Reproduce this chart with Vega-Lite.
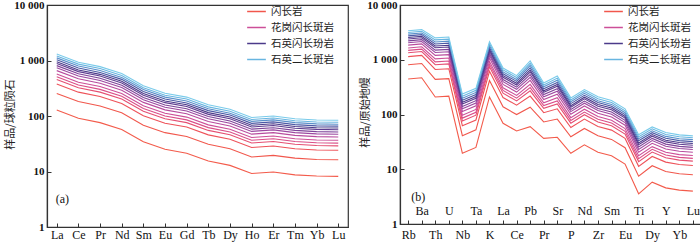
{
"$schema":"https://vega.github.io/schema/vega-lite/v6.json",
"padding":{"left":3,"top":-2,"right":0,"bottom":0},
"config":{"view":{"stroke":"#333","strokeWidth":1.2},"axis":{"grid":false,"domainColor":"#333","tickColor":"#333","labelColor":"#111","titleColor":"#222","domainWidth":1.2}},
"spacing":9,
"resolve":{"scale":{"color":"independent","x":"independent","y":"independent"},"legend":{"color":"independent"}},
"datasets":{
"la":[{"t":"(a)"}],
"lb":[{"t":"(b)"}],
"a":[
{"s":"a01","e":"La","v":128},{"s":"a01","e":"Ce","v":91.2},{"s":"a01","e":"Pr","v":75.9},{"s":"a01","e":"Nd","v":56.9},{"s":"a01","e":"Sm","v":34.3},{"s":"a01","e":"Eu","v":25.1},{"s":"a01","e":"Gd","v":21.4},{"s":"a01","e":"Tb","v":15.5},{"s":"a01","e":"Dy","v":12.9},{"s":"a01","e":"Ho","v":9.18},{"s":"a01","e":"Er","v":9.77},{"s":"a01","e":"Tm","v":8.71},{"s":"a01","e":"Yb","v":8.28},{"s":"a01","e":"Lu","v":8.17},
{"s":"a02","e":"La","v":255},{"s":"a02","e":"Ce","v":182},{"s":"a02","e":"Pr","v":151},{"s":"a02","e":"Nd","v":114},{"s":"a02","e":"Sm","v":68.4},{"s":"a02","e":"Eu","v":50.1},{"s":"a02","e":"Gd","v":42.7},{"s":"a02","e":"Tb","v":30.9},{"s":"a02","e":"Dy","v":25.7},{"s":"a02","e":"Ho","v":18.3},{"s":"a02","e":"Er","v":19.5},{"s":"a02","e":"Tm","v":17.4},{"s":"a02","e":"Yb","v":16.5},{"s":"a02","e":"Lu","v":16.3},
{"s":"a03","e":"La","v":378},{"s":"a03","e":"Ce","v":269},{"s":"a03","e":"Pr","v":224},{"s":"a03","e":"Nd","v":168},{"s":"a03","e":"Sm","v":101},{"s":"a03","e":"Eu","v":74.1},{"s":"a03","e":"Gd","v":63.2},{"s":"a03","e":"Tb","v":45.7},{"s":"a03","e":"Dy","v":38.1},{"s":"a03","e":"Ho","v":27.1},{"s":"a03","e":"Er","v":28.8},{"s":"a03","e":"Tm","v":25.7},{"s":"a03","e":"Yb","v":24.4},{"s":"a03","e":"Lu","v":24.1},
{"s":"a04","e":"La","v":454},{"s":"a04","e":"Ce","v":324},{"s":"a04","e":"Pr","v":269},{"s":"a04","e":"Nd","v":202},{"s":"a04","e":"Sm","v":122},{"s":"a04","e":"Eu","v":89.1},{"s":"a04","e":"Gd","v":75.9},{"s":"a04","e":"Tb","v":55.0},{"s":"a04","e":"Dy","v":45.8},{"s":"a04","e":"Ho","v":32.6},{"s":"a04","e":"Er","v":34.7},{"s":"a04","e":"Tm","v":30.9},{"s":"a04","e":"Yb","v":29.4},{"s":"a04","e":"Lu","v":29.0},
{"s":"a05","e":"La","v":510},{"s":"a05","e":"Ce","v":363},{"s":"a05","e":"Pr","v":302},{"s":"a05","e":"Nd","v":227},{"s":"a05","e":"Sm","v":137},{"s":"a05","e":"Eu","v":99.9},{"s":"a05","e":"Gd","v":85.2},{"s":"a05","e":"Tb","v":61.7},{"s":"a05","e":"Dy","v":51.4},{"s":"a05","e":"Ho","v":36.5},{"s":"a05","e":"Er","v":38.9},{"s":"a05","e":"Tm","v":34.7},{"s":"a05","e":"Yb","v":33.0},{"s":"a05","e":"Lu","v":32.5},
{"s":"a06","e":"La","v":572},{"s":"a06","e":"Ce","v":407},{"s":"a06","e":"Pr","v":339},{"s":"a06","e":"Nd","v":254},{"s":"a06","e":"Sm","v":153},{"s":"a06","e":"Eu","v":112},{"s":"a06","e":"Gd","v":95.6},{"s":"a06","e":"Tb","v":69.2},{"s":"a06","e":"Dy","v":57.6},{"s":"a06","e":"Ho","v":41.0},{"s":"a06","e":"Er","v":43.6},{"s":"a06","e":"Tm","v":38.9},{"s":"a06","e":"Yb","v":37.0},{"s":"a06","e":"Lu","v":36.5},
{"s":"a07","e":"La","v":657},{"s":"a07","e":"Ce","v":468},{"s":"a07","e":"Pr","v":389},{"s":"a07","e":"Nd","v":292},{"s":"a07","e":"Sm","v":176},{"s":"a07","e":"Eu","v":129},{"s":"a07","e":"Gd","v":110},{"s":"a07","e":"Tb","v":79.5},{"s":"a07","e":"Dy","v":66.2},{"s":"a07","e":"Ho","v":47.1},{"s":"a07","e":"Er","v":50.1},{"s":"a07","e":"Tm","v":44.7},{"s":"a07","e":"Yb","v":42.5},{"s":"a07","e":"Lu","v":41.9},
{"s":"a08","e":"La","v":737},{"s":"a08","e":"Ce","v":525},{"s":"a08","e":"Pr","v":437},{"s":"a08","e":"Nd","v":327},{"s":"a08","e":"Sm","v":197},{"s":"a08","e":"Eu","v":144},{"s":"a08","e":"Gd","v":123},{"s":"a08","e":"Tb","v":89.2},{"s":"a08","e":"Dy","v":74.2},{"s":"a08","e":"Ho","v":52.8},{"s":"a08","e":"Er","v":56.2},{"s":"a08","e":"Tm","v":50.1},{"s":"a08","e":"Yb","v":47.6},{"s":"a08","e":"Lu","v":47.0},
{"s":"a09","e":"La","v":808},{"s":"a09","e":"Ce","v":576},{"s":"a09","e":"Pr","v":479},{"s":"a09","e":"Nd","v":359},{"s":"a09","e":"Sm","v":216},{"s":"a09","e":"Eu","v":158},{"s":"a09","e":"Gd","v":135},{"s":"a09","e":"Tb","v":97.8},{"s":"a09","e":"Dy","v":81.4},{"s":"a09","e":"Ho","v":57.9},{"s":"a09","e":"Er","v":61.6},{"s":"a09","e":"Tm","v":55.0},{"s":"a09","e":"Yb","v":52.2},{"s":"a09","e":"Lu","v":51.6},
{"s":"a10","e":"La","v":886},{"s":"a10","e":"Ce","v":631},{"s":"a10","e":"Pr","v":525},{"s":"a10","e":"Nd","v":394},{"s":"a10","e":"Sm","v":237},{"s":"a10","e":"Eu","v":174},{"s":"a10","e":"Gd","v":148},{"s":"a10","e":"Tb","v":107},{"s":"a10","e":"Dy","v":89.2},{"s":"a10","e":"Ho","v":63.5},{"s":"a10","e":"Er","v":67.6},{"s":"a10","e":"Tm","v":60.3},{"s":"a10","e":"Yb","v":57.3},{"s":"a10","e":"Lu","v":56.5},
{"s":"a11","e":"La","v":949},{"s":"a11","e":"Ce","v":676},{"s":"a11","e":"Pr","v":563},{"s":"a11","e":"Nd","v":422},{"s":"a11","e":"Sm","v":254},{"s":"a11","e":"Eu","v":186},{"s":"a11","e":"Gd","v":159},{"s":"a11","e":"Tb","v":115},{"s":"a11","e":"Dy","v":95.6},{"s":"a11","e":"Ho","v":68.1},{"s":"a11","e":"Er","v":72.4},{"s":"a11","e":"Tm","v":64.6},{"s":"a11","e":"Yb","v":61.4},{"s":"a11","e":"Lu","v":60.6},
{"s":"a12","e":"La","v":1030},{"s":"a12","e":"Ce","v":733},{"s":"a12","e":"Pr","v":610},{"s":"a12","e":"Nd","v":457},{"s":"a12","e":"Sm","v":276},{"s":"a12","e":"Eu","v":202},{"s":"a12","e":"Gd","v":172},{"s":"a12","e":"Tb","v":125},{"s":"a12","e":"Dy","v":104},{"s":"a12","e":"Ho","v":73.8},{"s":"a12","e":"Er","v":78.5},{"s":"a12","e":"Tm","v":70.0},{"s":"a12","e":"Yb","v":66.5},{"s":"a12","e":"Lu","v":65.6},
{"s":"a13","e":"La","v":1115},{"s":"a13","e":"Ce","v":794},{"s":"a13","e":"Pr","v":661},{"s":"a13","e":"Nd","v":496},{"s":"a13","e":"Sm","v":299},{"s":"a13","e":"Eu","v":219},{"s":"a13","e":"Gd","v":186},{"s":"a13","e":"Tb","v":135},{"s":"a13","e":"Dy","v":112},{"s":"a13","e":"Ho","v":80.0},{"s":"a13","e":"Er","v":85.1},{"s":"a13","e":"Tm","v":75.9},{"s":"a13","e":"Yb","v":72.1},{"s":"a13","e":"Lu","v":71.2},
{"s":"a14","e":"La","v":1208},{"s":"a14","e":"Ce","v":861},{"s":"a14","e":"Pr","v":717},{"s":"a14","e":"Nd","v":537},{"s":"a14","e":"Sm","v":324},{"s":"a14","e":"Eu","v":237},{"s":"a14","e":"Gd","v":202},{"s":"a14","e":"Tb","v":146},{"s":"a14","e":"Dy","v":122},{"s":"a14","e":"Ho","v":86.7},{"s":"a14","e":"Er","v":92.2},{"s":"a14","e":"Tm","v":82.2},{"s":"a14","e":"Yb","v":78.2},{"s":"a14","e":"Lu","v":77.1},
{"s":"a15","e":"La","v":1309},{"s":"a15","e":"Ce","v":933},{"s":"a15","e":"Pr","v":776},{"s":"a15","e":"Nd","v":582},{"s":"a15","e":"Sm","v":351},{"s":"a15","e":"Eu","v":257},{"s":"a15","e":"Gd","v":219},{"s":"a15","e":"Tb","v":159},{"s":"a15","e":"Dy","v":132},{"s":"a15","e":"Ho","v":93.9},{"s":"a15","e":"Er","v":99.9},{"s":"a15","e":"Tm","v":89.1},{"s":"a15","e":"Yb","v":84.7},{"s":"a15","e":"Lu","v":83.6}
],
"b":[
{"s":"b01","e":"Rb","v":445},{"s":"b01","e":"Ba","v":468},{"s":"b01","e":"Th","v":209},{"s":"b01","e":"U","v":216},{"s":"b01","e":"Nb","v":19.6},{"s":"b01","e":"Ta","v":25},{"s":"b01","e":"K","v":209},{"s":"b01","e":"La","v":69},{"s":"b01","e":"Ce","v":50},{"s":"b01","e":"Pb","v":60},{"s":"b01","e":"Pr","v":36.7},{"s":"b01","e":"Sr","v":38.3},{"s":"b01","e":"P","v":19.6},{"s":"b01","e":"Nd","v":27.9},{"s":"b01","e":"Zr","v":20.5},{"s":"b01","e":"Sm","v":17.6},{"s":"b01","e":"Eu","v":12.4},{"s":"b01","e":"Ti","v":3.56},{"s":"b01","e":"Dy","v":5.8},{"s":"b01","e":"Y","v":4.57},{"s":"b01","e":"Yb","v":4.15},{"s":"b01","e":"Lu","v":3.98},
{"s":"b02","e":"Rb","v":812},{"s":"b02","e":"Ba","v":854},{"s":"b02","e":"Th","v":438},{"s":"b02","e":"U","v":452},{"s":"b02","e":"Nb","v":41.0},{"s":"b02","e":"Ta","v":52.4},{"s":"b02","e":"K","v":417},{"s":"b02","e":"La","v":138},{"s":"b02","e":"Ce","v":99.8},{"s":"b02","e":"Pb","v":136},{"s":"b02","e":"Pr","v":73.2},{"s":"b02","e":"Sr","v":82.5},{"s":"b02","e":"P","v":39.1},{"s":"b02","e":"Nd","v":55.7},{"s":"b02","e":"Zr","v":40.9},{"s":"b02","e":"Sm","v":35.1},{"s":"b02","e":"Eu","v":24.7},{"s":"b02","e":"Ti","v":7.45},{"s":"b02","e":"Dy","v":11.6},{"s":"b02","e":"Y","v":9.12},{"s":"b02","e":"Yb","v":8.28},{"s":"b02","e":"Lu","v":7.94},
{"s":"b03","e":"Rb","v":1141},{"s":"b03","e":"Ba","v":1200},{"s":"b03","e":"Th","v":664},{"s":"b03","e":"U","v":686},{"s":"b03","e":"Nb","v":62.3},{"s":"b03","e":"Ta","v":79.4},{"s":"b03","e":"K","v":617},{"s":"b03","e":"La","v":204},{"s":"b03","e":"Ce","v":148},{"s":"b03","e":"Pb","v":217},{"s":"b03","e":"Pr","v":108},{"s":"b03","e":"Sr","v":127},{"s":"b03","e":"P","v":57.8},{"s":"b03","e":"Nd","v":82.3},{"s":"b03","e":"Zr","v":60.5},{"s":"b03","e":"Sm","v":51.9},{"s":"b03","e":"Eu","v":36.6},{"s":"b03","e":"Ti","v":11.3},{"s":"b03","e":"Dy","v":17.1},{"s":"b03","e":"Y","v":13.5},{"s":"b03","e":"Yb","v":12.2},{"s":"b03","e":"Lu","v":11.7},
{"s":"b04","e":"Rb","v":1344},{"s":"b04","e":"Ba","v":1413},{"s":"b04","e":"Th","v":811},{"s":"b04","e":"U","v":839},{"s":"b04","e":"Nb","v":76.1},{"s":"b04","e":"Ta","v":97.1},{"s":"b04","e":"K","v":742},{"s":"b04","e":"La","v":245},{"s":"b04","e":"Ce","v":177},{"s":"b04","e":"Pb","v":271},{"s":"b04","e":"Pr","v":130},{"s":"b04","e":"Sr","v":156},{"s":"b04","e":"P","v":69.5},{"s":"b04","e":"Nd","v":99.0},{"s":"b04","e":"Zr","v":72.7},{"s":"b04","e":"Sm","v":62.4},{"s":"b04","e":"Eu","v":44.0},{"s":"b04","e":"Ti","v":13.8},{"s":"b04","e":"Dy","v":20.6},{"s":"b04","e":"Y","v":16.2},{"s":"b04","e":"Yb","v":14.7},{"s":"b04","e":"Lu","v":14.1},
{"s":"b05","e":"Rb","v":1484},{"s":"b05","e":"Ba","v":1560},{"s":"b05","e":"Th","v":916},{"s":"b05","e":"U","v":947},{"s":"b05","e":"Nb","v":85.9},{"s":"b05","e":"Ta","v":110},{"s":"b05","e":"K","v":832},{"s":"b05","e":"La","v":275},{"s":"b05","e":"Ce","v":199},{"s":"b05","e":"Pb","v":310},{"s":"b05","e":"Pr","v":146},{"s":"b05","e":"Sr","v":177},{"s":"b05","e":"P","v":78.0},{"s":"b05","e":"Nd","v":111},{"s":"b05","e":"Zr","v":81.6},{"s":"b05","e":"Sm","v":70.1},{"s":"b05","e":"Eu","v":49.4},{"s":"b05","e":"Ti","v":15.6},{"s":"b05","e":"Dy","v":23.1},{"s":"b05","e":"Y","v":18.2},{"s":"b05","e":"Yb","v":16.5},{"s":"b05","e":"Lu","v":15.8},
{"s":"b06","e":"Rb","v":1642},{"s":"b06","e":"Ba","v":1727},{"s":"b06","e":"Th","v":1038},{"s":"b06","e":"U","v":1073},{"s":"b06","e":"Nb","v":97.3},{"s":"b06","e":"Ta","v":124},{"s":"b06","e":"K","v":934},{"s":"b06","e":"La","v":308},{"s":"b06","e":"Ce","v":223},{"s":"b06","e":"Pb","v":356},{"s":"b06","e":"Pr","v":164},{"s":"b06","e":"Sr","v":202},{"s":"b06","e":"P","v":87.6},{"s":"b06","e":"Nd","v":125},{"s":"b06","e":"Zr","v":91.6},{"s":"b06","e":"Sm","v":78.6},{"s":"b06","e":"Eu","v":55.4},{"s":"b06","e":"Ti","v":17.7},{"s":"b06","e":"Dy","v":25.9},{"s":"b06","e":"Y","v":20.4},{"s":"b06","e":"Yb","v":18.5},{"s":"b06","e":"Lu","v":17.8},
{"s":"b07","e":"Rb","v":1851},{"s":"b07","e":"Ba","v":1946},{"s":"b07","e":"Th","v":1200},{"s":"b07","e":"U","v":1240},{"s":"b07","e":"Nb","v":113},{"s":"b07","e":"Ta","v":144},{"s":"b07","e":"K","v":1072},{"s":"b07","e":"La","v":354},{"s":"b07","e":"Ce","v":257},{"s":"b07","e":"Pb","v":419},{"s":"b07","e":"Pr","v":188},{"s":"b07","e":"Sr","v":235},{"s":"b07","e":"P","v":101},{"s":"b07","e":"Nd","v":143},{"s":"b07","e":"Zr","v":105},{"s":"b07","e":"Sm","v":90.3},{"s":"b07","e":"Eu","v":63.6},{"s":"b07","e":"Ti","v":20.4},{"s":"b07","e":"Dy","v":29.7},{"s":"b07","e":"Y","v":23.4},{"s":"b07","e":"Yb","v":21.3},{"s":"b07","e":"Lu","v":20.4},
{"s":"b08","e":"Rb","v":2043},{"s":"b08","e":"Ba","v":2149},{"s":"b08","e":"Th","v":1356},{"s":"b08","e":"U","v":1401},{"s":"b08","e":"Nb","v":127},{"s":"b08","e":"Ta","v":162},{"s":"b08","e":"K","v":1203},{"s":"b08","e":"La","v":397},{"s":"b08","e":"Ce","v":288},{"s":"b08","e":"Pb","v":479},{"s":"b08","e":"Pr","v":211},{"s":"b08","e":"Sr","v":266},{"s":"b08","e":"P","v":113},{"s":"b08","e":"Nd","v":161},{"s":"b08","e":"Zr","v":118},{"s":"b08","e":"Sm","v":101},{"s":"b08","e":"Eu","v":71.3},{"s":"b08","e":"Ti","v":23.1},{"s":"b08","e":"Dy","v":33.4},{"s":"b08","e":"Y","v":26.3},{"s":"b08","e":"Yb","v":23.9},{"s":"b08","e":"Lu","v":22.9},
{"s":"b09","e":"Rb","v":2215},{"s":"b09","e":"Ba","v":2329},{"s":"b09","e":"Th","v":1497},{"s":"b09","e":"U","v":1547},{"s":"b09","e":"Nb","v":140},{"s":"b09","e":"Ta","v":179},{"s":"b09","e":"K","v":1319},{"s":"b09","e":"La","v":435},{"s":"b09","e":"Ce","v":316},{"s":"b09","e":"Pb","v":535},{"s":"b09","e":"Pr","v":232},{"s":"b09","e":"Sr","v":295},{"s":"b09","e":"P","v":124},{"s":"b09","e":"Nd","v":176},{"s":"b09","e":"Zr","v":129},{"s":"b09","e":"Sm","v":111},{"s":"b09","e":"Eu","v":78.2},{"s":"b09","e":"Ti","v":25.5},{"s":"b09","e":"Dy","v":36.6},{"s":"b09","e":"Y","v":28.8},{"s":"b09","e":"Yb","v":26.2},{"s":"b09","e":"Lu","v":25.1},
{"s":"b10","e":"Rb","v":2401},{"s":"b10","e":"Ba","v":2525},{"s":"b10","e":"Th","v":1656},{"s":"b10","e":"U","v":1712},{"s":"b10","e":"Nb","v":155},{"s":"b10","e":"Ta","v":198},{"s":"b10","e":"K","v":1446},{"s":"b10","e":"La","v":477},{"s":"b10","e":"Ce","v":346},{"s":"b10","e":"Pb","v":597},{"s":"b10","e":"Pr","v":254},{"s":"b10","e":"Sr","v":328},{"s":"b10","e":"P","v":136},{"s":"b10","e":"Nd","v":193},{"s":"b10","e":"Zr","v":142},{"s":"b10","e":"Sm","v":122},{"s":"b10","e":"Eu","v":85.8},{"s":"b10","e":"Ti","v":28.2},{"s":"b10","e":"Dy","v":40.1},{"s":"b10","e":"Y","v":31.6},{"s":"b10","e":"Yb","v":28.7},{"s":"b10","e":"Lu","v":27.5},
{"s":"b11","e":"Rb","v":2549},{"s":"b11","e":"Ba","v":2681},{"s":"b11","e":"Th","v":1779},{"s":"b11","e":"U","v":1838},{"s":"b11","e":"Nb","v":167},{"s":"b11","e":"Ta","v":213},{"s":"b11","e":"K","v":1549},{"s":"b11","e":"La","v":511},{"s":"b11","e":"Ce","v":371},{"s":"b11","e":"Pb","v":647},{"s":"b11","e":"Pr","v":272},{"s":"b11","e":"Sr","v":353},{"s":"b11","e":"P","v":145},{"s":"b11","e":"Nd","v":207},{"s":"b11","e":"Zr","v":152},{"s":"b11","e":"Sm","v":131},{"s":"b11","e":"Eu","v":91.9},{"s":"b11","e":"Ti","v":30.3},{"s":"b11","e":"Dy","v":43.0},{"s":"b11","e":"Y","v":33.9},{"s":"b11","e":"Yb","v":30.8},{"s":"b11","e":"Lu","v":29.5},
{"s":"b12","e":"Rb","v":2731},{"s":"b12","e":"Ba","v":2873},{"s":"b12","e":"Th","v":1942},{"s":"b12","e":"U","v":2007},{"s":"b12","e":"Nb","v":182},{"s":"b12","e":"Ta","v":232},{"s":"b12","e":"K","v":1679},{"s":"b12","e":"La","v":554},{"s":"b12","e":"Ce","v":402},{"s":"b12","e":"Pb","v":713},{"s":"b12","e":"Pr","v":295},{"s":"b12","e":"Sr","v":386},{"s":"b12","e":"P","v":158},{"s":"b12","e":"Nd","v":224},{"s":"b12","e":"Zr","v":165},{"s":"b12","e":"Sm","v":141},{"s":"b12","e":"Eu","v":99.6},{"s":"b12","e":"Ti","v":33.1},{"s":"b12","e":"Dy","v":46.6},{"s":"b12","e":"Y","v":36.7},{"s":"b12","e":"Yb","v":33.3},{"s":"b12","e":"Lu","v":32.0},
{"s":"b13","e":"Rb","v":2933},{"s":"b13","e":"Ba","v":3085},{"s":"b13","e":"Th","v":2115},{"s":"b13","e":"U","v":2186},{"s":"b13","e":"Nb","v":198},{"s":"b13","e":"Ta","v":253},{"s":"b13","e":"K","v":1820},{"s":"b13","e":"La","v":601},{"s":"b13","e":"Ce","v":436},{"s":"b13","e":"Pb","v":785},{"s":"b13","e":"Pr","v":320},{"s":"b13","e":"Sr","v":423},{"s":"b13","e":"P","v":171},{"s":"b13","e":"Nd","v":243},{"s":"b13","e":"Zr","v":179},{"s":"b13","e":"Sm","v":153},{"s":"b13","e":"Eu","v":108},{"s":"b13","e":"Ti","v":36.0},{"s":"b13","e":"Dy","v":50.5},{"s":"b13","e":"Y","v":39.8},{"s":"b13","e":"Yb","v":36.1},{"s":"b13","e":"Lu","v":34.7},
{"s":"b14","e":"Rb","v":3143},{"s":"b14","e":"Ba","v":3305},{"s":"b14","e":"Th","v":2303},{"s":"b14","e":"U","v":2380},{"s":"b14","e":"Nb","v":216},{"s":"b14","e":"Ta","v":276},{"s":"b14","e":"K","v":1973},{"s":"b14","e":"La","v":651},{"s":"b14","e":"Ce","v":472},{"s":"b14","e":"Pb","v":863},{"s":"b14","e":"Pr","v":347},{"s":"b14","e":"Sr","v":462},{"s":"b14","e":"P","v":185},{"s":"b14","e":"Nd","v":263},{"s":"b14","e":"Zr","v":194},{"s":"b14","e":"Sm","v":166},{"s":"b14","e":"Eu","v":117},{"s":"b14","e":"Ti","v":39.2},{"s":"b14","e":"Dy","v":54.8},{"s":"b14","e":"Y","v":43.1},{"s":"b14","e":"Yb","v":39.2},{"s":"b14","e":"Lu","v":37.6},
{"s":"b15","e":"Rb","v":3376},{"s":"b15","e":"Ba","v":3550},{"s":"b15","e":"Th","v":2512},{"s":"b15","e":"U","v":2596},{"s":"b15","e":"Nb","v":236},{"s":"b15","e":"Ta","v":301},{"s":"b15","e":"K","v":2138},{"s":"b15","e":"La","v":706},{"s":"b15","e":"Ce","v":512},{"s":"b15","e":"Pb","v":951},{"s":"b15","e":"Pr","v":375},{"s":"b15","e":"Sr","v":505},{"s":"b15","e":"P","v":201},{"s":"b15","e":"Nd","v":285},{"s":"b15","e":"Zr","v":210},{"s":"b15","e":"Sm","v":180},{"s":"b15","e":"Eu","v":127},{"s":"b15","e":"Ti","v":42.8},{"s":"b15","e":"Dy","v":59.3},{"s":"b15","e":"Y","v":46.8},{"s":"b15","e":"Yb","v":42.5},{"s":"b15","e":"Lu","v":40.7}
]
},
"hconcat":[
{
"width":301,"height":222,
"layer":[
{"data":{"name":"a"},"mark":{"type":"line","strokeWidth":1.1},
"encoding":{
"x":{"field":"e","type":"ordinal","sort":["La","Ce","Pr","Nd","Sm","Eu","Gd","Tb","Dy","Ho","Er","Tm","Yb","Lu"],"scale":{"type":"point","padding":0.45,"domain":["La","Ce","Pr","Nd","Sm","Eu","Gd","Tb","Dy","Ho","Er","Tm","Yb","Lu"]},
"axis":{"title":null,"labelFont":"Liberation Serif","labelFontSize":12,"labelAngle":0,"labelPadding":6,"tickSize":-4,"labelOverlap":false}},
"y":{"field":"v","type":"quantitative","scale":{"type":"log","domain":[1,10000]},
"axis":{"title":"样品/球粒陨石","values":[1,10,100,1000,10000],"labelExpr":"datum.value==10000?'10 000':datum.value==1000?'1 000':format(datum.value,'d')","labelFont":"Liberation Serif","labelFontWeight":"bold","labelFontSize":11,"tickSize":-4,"labelPadding":7,"titleFont":"Noto Sans CJK SC","titleFontSize":11,"titleFontWeight":"normal","titleX":-37,"titleY":109,"titleBaseline":"middle","titleAngle":-90}},
"color":{"field":"s","type":"nominal","scale":{"domain":["a01","a02","a03","a04","a05","a06","a07","a08","a09","a10","a11","a12","a13","a14","a15"],"range":["#f35b4b","#f1574c","#ee5259","#e54f72","#da4e88","#cc4f98","#b84c9e","#9c48a0","#7e4399","#5f3d90","#4b3a8a","#4c5aa6","#5a8fca","#68b5e0","#7acbea"]},
"legend":{"orient":"none","legendX":203,"legendY":0,"values":["a02","a06","a11","a14"],"labelExpr":"datum.value=='a02'?'闪长岩':datum.value=='a06'?'花岗闪长斑岩':datum.value=='a11'?'石英闪长玢岩':'石英二长斑岩'","title":null,"symbolType":"M-1.7,0H1.7","symbolSize":121,"symbolStrokeWidth":1.5,"symbolFillColor":"transparent","labelFont":"Noto Sans CJK SC","labelFontSize":10.5,"labelColor":"#222","rowPadding":4,"labelOffset":8,"padding":0}},
"order":{"value":null}}},
{"data":{"name":"la"},"mark":{"type":"text","align":"left","baseline":"middle","dx":-1,"font":"Liberation Serif","fontSize":12,"color":"#111"},
"encoding":{"x":{"datum":"La","type":"ordinal"},"y":{"datum":3.16,"type":"quantitative"},"text":{"field":"t"}}}
]
},
{
"width":301,"height":219,
"layer":[
{"data":{"name":"b"},"mark":{"type":"line","strokeWidth":1.1},
"encoding":{
"x":{"field":"e","type":"ordinal","sort":["Rb","Ba","Th","U","Nb","Ta","K","La","Ce","Pb","Pr","Sr","P","Nd","Zr","Sm","Eu","Ti","Dy","Y","Yb","Lu"],"scale":{"type":"point","padding":0.6,"domain":["Rb","Ba","Th","U","Nb","Ta","K","La","Ce","Pb","Pr","Sr","P","Nd","Zr","Sm","Eu","Ti","Dy","Y","Yb","Lu"]},
"axis":{"title":null,"labelFont":"Liberation Serif","labelFontSize":12,"labelAngle":0,"labelPadding":{"condition":{"test":"indexof(['Ba','U','Ta','La','Pb','Sr','Nd','Sm','Ti','Y','Lu'], datum.value) >= 0","value":-15},"value":9.5},"tickSize":-4,"labelOverlap":false}},
"y":{"field":"v","type":"quantitative","scale":{"type":"log","domain":[1,10000]},
"axis":{"title":"样品/原始地幔","values":[1,10,100,1000,10000],"labelExpr":"datum.value==10000?'10 000':datum.value==1000?'1 000':format(datum.value,'d')","labelFont":"Liberation Serif","labelFontWeight":"bold","labelFontSize":11,"tickSize":-4,"labelPadding":7,"titleFont":"Noto Sans CJK SC","titleFontSize":11,"titleFontWeight":"normal","titleX":-35,"titleY":107,"titleBaseline":"middle","titleAngle":-90}},
"color":{"field":"s","type":"nominal","scale":{"domain":["b01","b02","b03","b04","b05","b06","b07","b08","b09","b10","b11","b12","b13","b14","b15"],"range":["#f35b4b","#f1574c","#ee5259","#e54f72","#da4e88","#cc4f98","#b84c9e","#9c48a0","#7e4399","#5f3d90","#4b3a8a","#4c5aa6","#5a8fca","#68b5e0","#7acbea"]},
"legend":{"orient":"none","legendX":207,"legendY":0,"values":["b02","b06","b11","b14"],"labelExpr":"datum.value=='b02'?'闪长岩':datum.value=='b06'?'花岗闪长斑岩':datum.value=='b11'?'石英闪长玢岩':'石英二长斑岩'","title":null,"symbolType":"M-1.7,0H1.7","symbolSize":121,"symbolStrokeWidth":1.5,"symbolFillColor":"transparent","labelFont":"Noto Sans CJK SC","labelFontSize":10.5,"labelColor":"#222","rowPadding":4,"labelOffset":8,"padding":0}},
"order":{"value":null}}},
{"data":{"name":"lb"},"mark":{"type":"text","align":"left","baseline":"middle","dx":3,"font":"Liberation Serif","fontSize":12,"color":"#111"},
"encoding":{"x":{"datum":"Rb","type":"ordinal"},"y":{"datum":3.05,"type":"quantitative"},"text":{"field":"t"}}}
]
}
]
}
